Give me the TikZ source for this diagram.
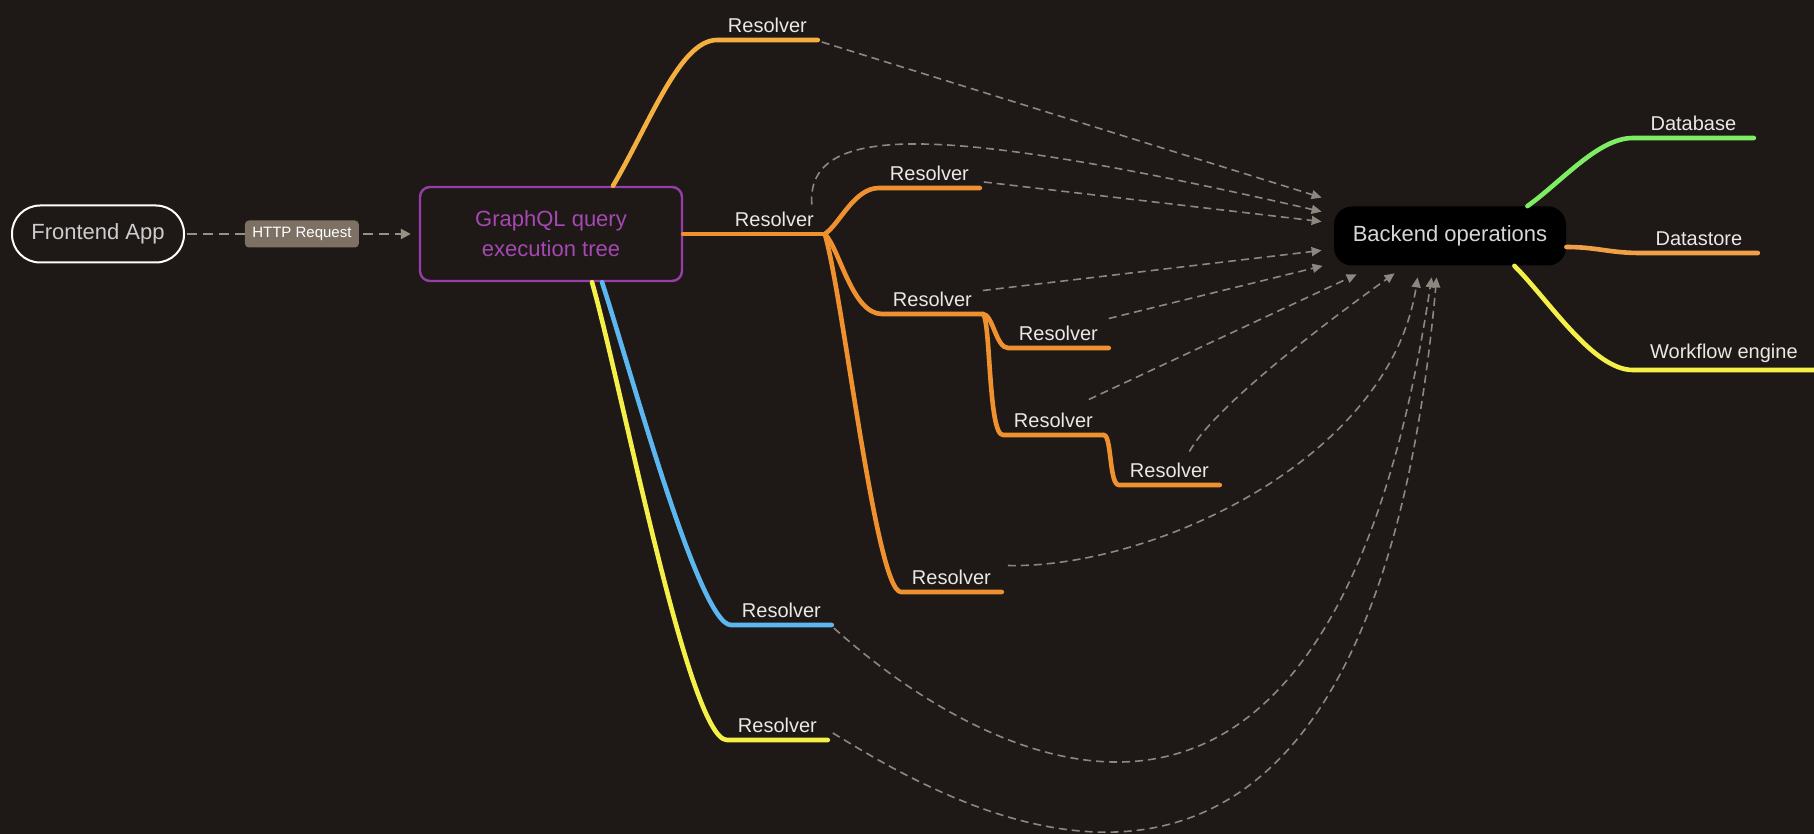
\documentclass[tikz,border=0pt]{standalone}
\usepackage{fontspec}
\setmainfont{Liberation Sans}
\usetikzlibrary{arrows.meta}

\definecolor{bgdark}{RGB}{30,25,22}
\definecolor{labelgray}{RGB}{232,232,230}
\definecolor{apptext}{RGB}{205,205,205}
\definecolor{betext}{RGB}{215,215,215}
\definecolor{dashgray}{RGB}{140,135,128}
\definecolor{flowgray}{RGB}{150,145,130}
\definecolor{httpfill}{RGB}{125,113,100}
\definecolor{gqlpurple}{RGB}{150,62,168}
\definecolor{gqltext}{RGB}{165,72,178}
\definecolor{linegold}{RGB}{245,175,62}
\definecolor{lineorange}{RGB}{240,145,48}
\definecolor{lineorangeb}{RGB}{240,160,70}
\definecolor{lineblue}{RGB}{92,182,240}
\definecolor{lineyellow}{RGB}{245,240,72}
\definecolor{linegreen}{RGB}{125,238,100}

\tikzset{
  res/.style={anchor=south west, minimum width=50pt, inner xsep=0pt, inner ysep=3.5pt,
    text=labelgray, font=\fontsize{10}{12}\selectfont},
  branch/.style={line width=2.3pt, line cap=round, line join=round},
  call/.style={draw=dashgray, line width=0.8pt, dash pattern=on 4pt off 2.5pt,
    -{Triangle[length=5pt,width=4.5pt]}},
  flow/.style={draw=flowgray, line width=1.1pt, dash pattern=on 5pt off 3pt,
    -{Triangle[length=5pt,width=5pt]}, shorten >=4pt, shorten <=1pt},
  tag/.style={fill=httpfill, rounded corners=2pt, text=white, inner sep=1pt,
    minimum width=57pt, minimum height=13.5pt, font=\fontsize{7.5}{9}\selectfont},
}

\begin{document}
\begin{tikzpicture}[x=0.5pt, y=-0.5pt]
  \useasboundingbox (0,0) rectangle (1814,834);
  \fill[bgdark] (0,0) rectangle (1814,834);

  \node[draw=white, line width=1pt, rounded corners=14pt, minimum width=86pt, minimum height=28.5pt,
    text=apptext, font=\fontsize{11}{13}\selectfont] (app) at (98,234) {Frontend App};
  \node[draw=gqlpurple, line width=1.2pt, rounded corners=5pt, minimum width=131pt, minimum height=47pt,
    align=center, text=gqltext, font=\fontsize{11}{15}\selectfont] (gql) at (551,234) {GraphQL query\\execution tree};
  \node[fill=black, rounded corners=9pt, minimum width=116pt, minimum height=29.5pt,
    text=betext, font=\fontsize{11}{13}\selectfont] (be) at (1450,236) {Backend operations};

  \draw[flow] (app) -- node[tag] (http) {HTTP Request} (gql);

  \node[res] (r1) at (717,40) {Resolver};
  \node[res] (r2) at (724,234) {Resolver};
  \node[res] (ra) at (879,188) {Resolver};
  \node[res] (rb) at (882,314) {Resolver};
  \node[res] (rb1) at (1008,348) {Resolver};
  \node[res] (rb2) at (1003,435) {Resolver};
  \node[res] (rb2a) at (1119,485) {Resolver};
  \node[res] (rc) at (901,592) {Resolver};
  \node[res] (rbl) at (731,625) {Resolver};
  \node[res] (ry) at (727,740) {Resolver};

  \node[res, minimum width=60pt] (db) at (1633,138) {Database};
  \node[res, minimum width=58.5pt] (ds) at (1640,253) {Datastore};
  \node[res, minimum width=90.5pt] (wf) at (1633,370) {Workflow engine};

  \draw[branch, linegold] ([xshift=31pt]gql.north) .. controls +(37,-63) and +(-37,0) .. (r1.south west) -- (r1.south east);
  \draw[branch, lineorange] (gql.east) -- (r2.south east);
  \draw[branch, lineorange] (r2.south east) .. controls +(15,-10) and +(-25,0) .. (ra.south west) -- (ra.south east);
  \draw[branch, lineorange] (r2.south east) .. controls +(15,15) and +(-30,0) .. (rb.south west) -- (rb.south east);
  \draw[branch, lineorange] (rb.south east) .. controls +(10,0) and +(-12,0) .. (rb1.south west) -- (rb1.south east);
  \draw[branch, lineorange] (rb.south east) .. controls +(8,5) and +(-15,0) .. (rb2.south west) -- (rb2.south east);
  \draw[branch, lineorange] (rb2.south east) .. controls +(8,0) and +(-10,0) .. (rb2a.south west) -- (rb2a.south east);
  \draw[branch, lineorange] (r2.south east) .. controls +(18,60) and +(-25,0) .. (rc.south west) -- (rc.south east);
  \draw[branch, lineblue] ([xshift=25.5pt]gql.south) .. controls +(28,85) and +(-32,0) .. (rbl.south west) -- (rbl.south east);
  \draw[branch, lineyellow] ([xshift=20.5pt]gql.south) .. controls +(30,105) and +(-38,0) .. (ry.south west) -- (ry.south east);

  \draw[branch, linegreen] ([xshift=-19.5pt]be.north east) .. controls +(35,-25) and +(-35,0) .. (db.south west) -- (db.south east);
  \draw[branch, lineorangeb] ([yshift=-5.5pt]be.east) .. controls +(30,0) and +(-30,0) .. (ds.south west) -- (ds.south east);
  \draw[branch, lineyellow] ([xshift=-26pt]be.south east) .. controls +(35,35) and +(-40,0) .. (wf.south west) -- (wf.south east);

  \draw[call] ([xshift=2pt,yshift=-1pt]r1.south east) -- ([xshift=-6pt,yshift=4.25pt]be.north west);
  \draw[call] ([xshift=-6.5pt]r2.north east) .. controls +(-6,-85) and +(-372,-85) .. ([xshift=-6pt,yshift=-2.75pt]be.north west);
  \draw[call] ([xshift=2pt,yshift=3pt]ra.south east) -- ([xshift=-6pt,yshift=-7.75pt]be.north west);
  \draw[call] ([yshift=-3pt]rb.north east) -- ([xshift=-6pt,yshift=7.75pt]be.south west);
  \draw[call] (rb1.north east) -- ([xshift=-5.5pt]be.south west);
  \draw[call] ([xshift=-7.5pt,yshift=3pt]rb2.north east) -- ([xshift=11.5pt,yshift=-4.25pt]be.south west);
  \draw[call] ([xshift=10pt,yshift=2pt]rb2a.north) .. controls +(25,-45) and +(-70,50) .. ([xshift=30.5pt,yshift=-3.75pt]be.south west);
  \draw[call] ([xshift=3pt,yshift=-1.5pt]rc.north east) .. controls +(143,3) and +(-28,183) .. ([xshift=42pt,yshift=-5.75pt]be.south west);
  \draw[call] ([xshift=1pt,yshift=-1.5pt]rbl.south east) .. controls +(112,101) and +(-108,719) .. ([xshift=49pt,yshift=-5.75pt]be.south west);
  \draw[call] ([xshift=2.5pt,yshift=3.5pt]ry.south east) .. controls +(111,67) and +(-71,792) .. ([xshift=51.5pt,yshift=-5.75pt]be.south west);
\end{tikzpicture}
\end{document}
